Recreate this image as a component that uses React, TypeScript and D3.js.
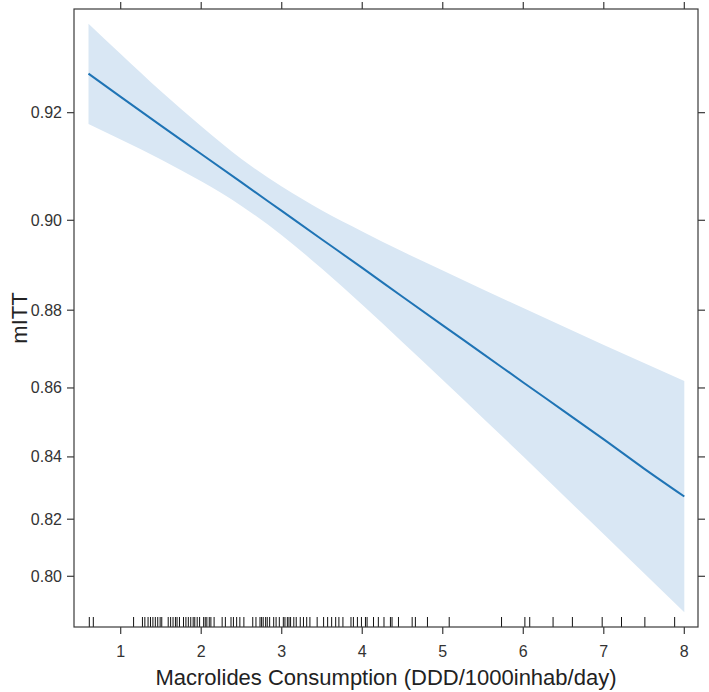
import React from 'react'
import * as d3 from 'd3'

const width = 709
const height = 692
const frame = { left: 74, right: 698, top: 9, bottom: 627 }

// effect of macrolide consumption on mITT, with 95% band
const consumption = [0.6, 1, 1.5, 2, 2.5, 3, 3.5, 4, 4.5, 5, 5.5, 6, 6.5, 7, 7.5, 8]
const fitted = [
    0.9263, 0.9226, 0.9178, 0.9128, 0.9075, 0.9019, 0.896, 0.8898, 0.8832,
    0.8763, 0.8691, 0.8615, 0.8536, 0.8453, 0.8364, 0.8275,
]
const upper = [
    0.9337, 0.9293, 0.9235, 0.9177, 0.9119, 0.9067, 0.902, 0.8977, 0.8934,
    0.8892, 0.8849, 0.8805, 0.876, 0.8714, 0.8667, 0.8619,
]
const lower = [
    0.9181, 0.9154, 0.9118, 0.9077, 0.9029, 0.8969, 0.8896, 0.8813, 0.8721,
    0.8622, 0.8515, 0.8401, 0.8278, 0.8149, 0.8011, 0.7866,
]

// observed consumption values shown as a rug
const rug = [
    0.61, 0.66, 1.16, 1.27, 1.3, 1.34, 1.37, 1.4, 1.43, 1.46, 1.49, 1.51, 1.59,
    1.62, 1.65, 1.68, 1.7, 1.73, 1.78, 1.81, 1.84, 1.87, 1.9, 1.92, 1.95, 1.98,
    2.03, 2.05, 2.07, 2.1, 2.12, 2.16, 2.26, 2.3, 2.37, 2.4, 2.44, 2.48, 2.53,
    2.64, 2.68, 2.73, 2.75, 2.77, 2.8, 2.82, 2.85, 2.9, 2.93, 2.97, 3.02, 3.04,
    3.07, 3.09, 3.11, 3.15, 3.18, 3.23, 3.27, 3.31, 3.35, 3.44, 3.52, 3.57,
    3.62, 3.67, 3.71, 3.76, 3.86, 3.89, 3.94, 3.99, 4.04, 4.06, 4.14, 4.2,
    4.27, 4.35, 4.37, 4.45, 4.62, 4.66, 4.81, 5.08, 5.73, 6.02, 6.08, 6.37,
    6.61, 6.98, 7.22, 7.51, 7.88,
]

const xTicks = [1, 2, 3, 4, 5, 6, 7, 8]
const yTicks = [0.8, 0.82, 0.84, 0.86, 0.88, 0.9, 0.92]

const logit = (p: number) => Math.log(p / (1 - p))

const xScale = d3
    .scaleLinear()
    .domain([0.42, 8.17])
    .range([frame.left, frame.right])

// response axis is drawn on the logit scale
const logitScale = d3
    .scaleLinear()
    .domain([1.2708, 2.6785])
    .range([frame.bottom, frame.top])
const yScale = (p: number) => logitScale(logit(p))

const rows = consumption.map((x, i) => ({
    x,
    fit: fitted[i],
    lo: lower[i],
    hi: upper[i],
}))

const band = d3
    .area<(typeof rows)[number]>()
    .x((d) => xScale(d.x))
    .y0((d) => yScale(d.lo))
    .y1((d) => yScale(d.hi))
    .curve(d3.curveMonotoneX)

const trend = d3
    .line<(typeof rows)[number]>()
    .x((d) => xScale(d.x))
    .y((d) => yScale(d.fit))
    .curve(d3.curveMonotoneX)

const axisColor = '#3a3a3a'
const font = "'Liberation Sans', Arial, sans-serif"

export default function App() {
    return (
        <svg
            width={width}
            height={height}
            style={{ position: 'absolute', left: 0, top: 0, background: '#fff' }}
            fontFamily={font}
        >
            <path d={band(rows) ?? ''} fill={'#d9e7f4'} stroke={'none'} />
            <path
                d={trend(rows) ?? ''}
                fill={'none'}
                stroke={'#1f74b5'}
                strokeWidth={2}
            />
            {/* rug of observed values */}
            <g stroke={'#111'} strokeWidth={1}>
                {rug.map((v, i) => (
                    <line
                        key={i}
                        x1={xScale(v)}
                        x2={xScale(v)}
                        y1={frame.bottom - 10}
                        y2={frame.bottom}
                    />
                ))}
            </g>
            <rect
                x={frame.left}
                y={frame.top}
                width={frame.right - frame.left}
                height={frame.bottom - frame.top}
                fill={'none'}
                stroke={axisColor}
                strokeWidth={1.2}
            />
            {/* x ticks, bottom and top; y ticks, left and right */}
            <g stroke={axisColor} strokeWidth={1.2}>
                {xTicks.map((t) => (
                    <g key={t}>
                        <line
                            x1={xScale(t)}
                            x2={xScale(t)}
                            y1={frame.bottom}
                            y2={frame.bottom + 7}
                        />
                        <line
                            x1={xScale(t)}
                            x2={xScale(t)}
                            y1={frame.top}
                            y2={frame.top - 7}
                        />
                    </g>
                ))}
                {yTicks.map((t) => (
                    <g key={t}>
                        <line
                            x1={frame.left}
                            x2={frame.left - 7}
                            y1={yScale(t)}
                            y2={yScale(t)}
                        />
                        <line
                            x1={frame.right}
                            x2={frame.right + 7}
                            y1={yScale(t)}
                            y2={yScale(t)}
                        />
                    </g>
                ))}
            </g>
            <g fill={'#333'} fontSize={16}>
                {xTicks.map((t) => (
                    <text
                        key={t}
                        x={xScale(t)}
                        y={frame.bottom + 30}
                        textAnchor={'middle'}
                    >
                        {t}
                    </text>
                ))}
                {yTicks.map((t) => (
                    <text
                        key={t}
                        x={frame.left - 12}
                        y={yScale(t)}
                        textAnchor={'end'}
                        dominantBaseline={'central'}
                    >
                        {t.toFixed(2)}
                    </text>
                ))}
            </g>
            <text
                x={(frame.left + frame.right) / 2}
                y={685}
                textAnchor={'middle'}
                fontSize={22}
                fill={'#222'}
            >
                Macrolides Consumption (DDD/1000inhab/day)
            </text>
            <text
                transform={`translate(27, ${(frame.top + frame.bottom) / 2}) rotate(-90)`}
                textAnchor={'middle'}
                fontSize={22}
                fill={'#222'}
            >
                mITT
            </text>
        </svg>
    )
}
